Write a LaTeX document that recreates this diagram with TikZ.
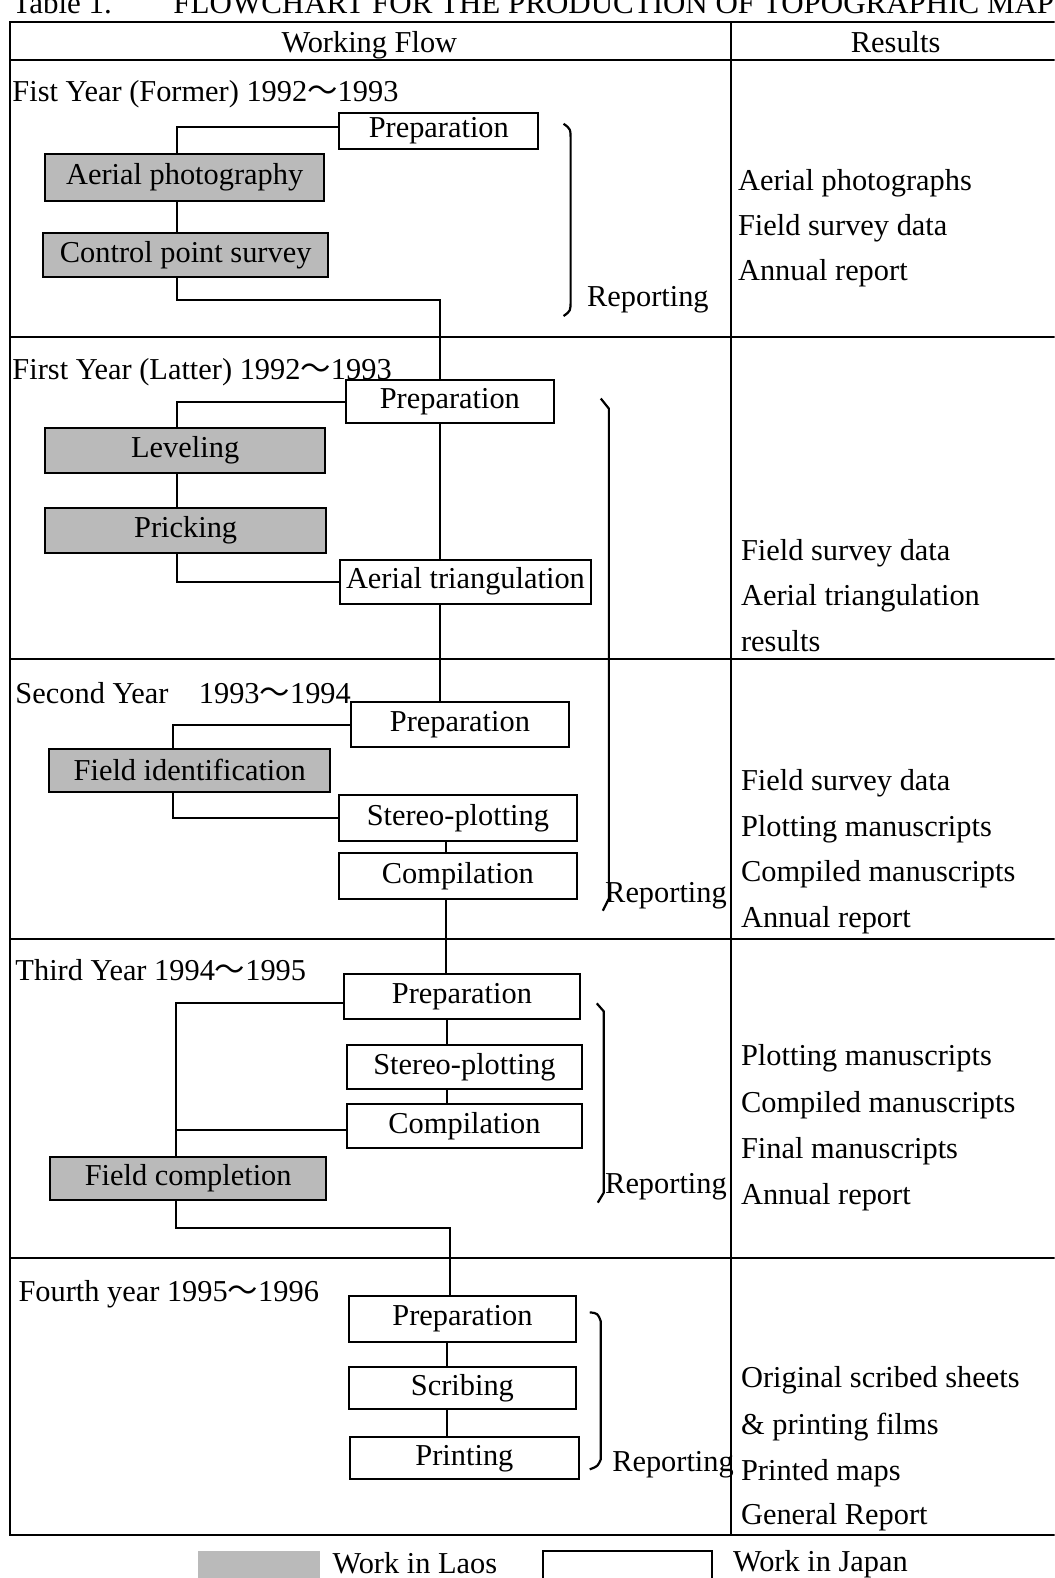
\documentclass[tikz,border=0pt]{standalone}
\usepackage{fontspec}
\setmainfont{Liberation Serif}
\newfontfamily\cjk{Noto Sans CJK JP}
\newlength\U
\setlength\U{0.5034pt}
\newcommand{\wave}{{\cjk ～}}
\begin{document}
\begin{tikzpicture}[x=0.5034pt,y=-0.5034pt,
  every node/.style={font=\fontsize{15.2}{18}\selectfont, inner sep=0pt},
  tline/.style={line width=1.1pt},
  conn/.style={line width=1pt},
  wbox/.style={draw, line width=1pt, fill=white, rectangle},
  gbox/.style={draw, line width=1pt, fill=black!27, rectangle},
  lbl/.style={anchor=base west},
  brk/.style={line width=1.1pt, line join=round}
]
\useasboundingbox (0,0) rectangle (1048,1568);
\clip (0,0) rectangle (1048,1568);
\fill[white] (0,0) rectangle (1048,1568);

% title (cut at top)
\node[lbl, font=\fontsize{15.5}{18}\selectfont] (title1) at (12,13) {Table 1.};
\node[lbl, font=\fontsize{15.5}{18}\selectfont] (title2) at (172,13) {FLOWCHART FOR THE PRODUCTION OF TOPOGRAPHIC MAPS};

% table frame
\draw[tline] (1048,22) -- (10,22) -- (10,1525) -- (1048,1525);
\draw[tline] (726,22) -- (726,1525);
\draw[tline] (10,60) -- (1048,60);
\draw[tline] (10,335) -- (1048,335);
\draw[tline] (10,655) -- (1048,655);
\draw[tline] (10,933) -- (1048,933);
\draw[tline] (10,1250) -- (1048,1250);

% headers
\node[anchor=base] (hwf) at (367,52) {Working Flow};
\node[anchor=base] (hres) at (890,52) {Results};

% section titles
\node[lbl] (y1) at (12,101) {Fist Year (Former) 1992\wave1993};
\node[lbl] (y2) at (12,377) {First Year (Latter) 1992\wave1993};
\node[lbl] (y3) at (15,699) {Second Year\hspace{1em}1993\wave1994};
\node[lbl] (y4) at (15,974) {Third Year 1994\wave1995};
\node[lbl] (y5) at (18,1293) {Fourth year 1995\wave1996};

% ---------- section 1
\node[wbox, minimum width=198\U, minimum height=36\U] (prep1) at (436,130) {Preparation};
\node[gbox, minimum width=277\U, minimum height=47\U] (aerial) at (183.5,176.5) {Aerial photography};
\node[gbox, minimum width=283\U, minimum height=43\U] (control) at (184.5,253.5) {Control point survey};

% ---------- section 2
\node[wbox, minimum width=206\U, minimum height=42\U] (prep2) at (447,399) {Preparation};
\node[gbox, minimum width=278\U, minimum height=45\U] (leveling) at (184,447.5) {Leveling};
\node[gbox, minimum width=279\U, minimum height=44\U] (pricking) at (184.5,527) {Pricking};
\node[wbox, minimum width=249\U, minimum height=44\U] (aerialtri) at (462.5,578) {Aerial triangulation};

% ---------- section 3
\node[wbox, minimum width=216\U, minimum height=44\U] (prep3) at (457,720) {Preparation};
\node[gbox, minimum width=279\U, minimum height=43\U] (fieldid) at (188.5,765.5) {Field identification};
\node[wbox, minimum width=236\U, minimum height=46\U] (stereo3) at (455,813) {Stereo-plotting};
\node[wbox, minimum width=236\U, minimum height=45\U] (comp3) at (455,870.5) {Compilation};

% ---------- section 4
\node[wbox, minimum width=234\U, minimum height=45\U] (prep4) at (459,990.5) {Preparation};
\node[wbox, minimum width=233\U, minimum height=44\U] (stereo4) at (461.5,1060) {Stereo-plotting};
\node[wbox, minimum width=233\U, minimum height=44\U] (comp4) at (461.5,1119) {Compilation};
\node[gbox, minimum width=274\U, minimum height=42\U] (fieldcomp) at (187,1171) {Field completion};

% ---------- section 5
\node[wbox, minimum width=225\U, minimum height=45\U] (prep5) at (459.5,1310.5) {Preparation};
\node[wbox, minimum width=225\U, minimum height=42\U] (scrib) at (459.5,1379) {Scribing};
\node[wbox, minimum width=227\U, minimum height=42\U] (print) at (461.5,1449) {Printing};

% ---------- connectors
\coordinate (sp1) at (176,0);
\coordinate (j1) at (437,298);
\coordinate (p1w) at ([yshift=4\U]prep1.west);
\draw[conn] (p1w) -| (sp1 |- aerial.north);
\draw[conn] (sp1 |- aerial.south) -- (sp1 |- control.north);
\draw[conn] (sp1 |- control.south) |- (j1) -- (j1 |- prep2.north);

\coordinate (sp2) at (176,0);
\coordinate (t2) at (437,0);
\draw[conn] (prep2.west) -| (sp2 |- leveling.north);
\draw[conn] (sp2 |- leveling.south) -- (sp2 |- pricking.north);
\draw[conn] (sp2 |- pricking.south) |- (aerialtri.west);
\draw[conn] (t2 |- prep2.south) -- (t2 |- aerialtri.north);
\draw[conn] (t2 |- aerialtri.south) -- (t2 |- prep3.north);

\coordinate (sp3) at (172,0);
\coordinate (t3) at (443,0);
\draw[conn] (prep3.west) -| (sp3 |- fieldid.north);
\draw[conn] (sp3 |- fieldid.south) |- (stereo3.west);
\draw[conn] (t3 |- stereo3.south) -- (t3 |- comp3.north);
\draw[conn] (t3 |- comp3.south) -- (t3 |- prep4.north);

\coordinate (sp4) at (175,0);
\coordinate (t4) at (444,0);
\coordinate (j4) at (447,1220);
\coordinate (p4w) at ([yshift=-6\U]prep4.west);
\coordinate (c4w) at ([yshift=-4\U]comp4.west);
\draw[conn] (p4w) -| (sp4 |- fieldcomp.north);
\draw[conn] (sp4 |- c4w) -- (c4w);
\draw[conn] (t4 |- prep4.south) -- (t4 |- stereo4.north);
\draw[conn] (t4 |- stereo4.south) -- (t4 |- comp4.north);
\draw[conn] (sp4 |- fieldcomp.south) |- (j4) -- (j4 |- prep5.north);

\coordinate (t5) at (444,0);
\draw[conn] (t5 |- prep5.south) -- (t5 |- scrib.north);
\draw[conn] (t5 |- scrib.south) -- (t5 |- print.north);

% ---------- brackets and Reporting
\draw[brk] (560,123) .. controls (567,128) .. (567,140) -- (567,298) .. controls (567,309) .. (560,314);
\node[lbl] (rep1) at (583,305) {Reporting};

\draw[brk] (597,396) -- (605,406) -- (605,893) -- (599,905);
\node[lbl] (rep3) at (601,897) {Reporting};

\draw[brk] (593,997) -- (600,1005) -- (600,1185) -- (594,1195);
\node[lbl] (rep4) at (601,1186) {Reporting};

\draw[brk] (586,1304) .. controls (594,1305) .. (597,1313) -- (597,1450) .. controls (594,1457) .. (586,1460);
\node[lbl] (rep5) at (608,1462) {Reporting};

% ---------- results
\node[lbl] (r11) at (733,189) {Aerial photographs};
\node[lbl] (r12) at (733,234) {Field survey data};
\node[lbl] (r13) at (733,279) {Annual report};

\node[lbl] (r21) at (736,557) {Field survey data};
\node[lbl] (r22) at (736,602) {Aerial triangulation};
\node[lbl] (r23) at (736,647) {results};

\node[lbl] (r31) at (736,785) {Field survey data};
\node[lbl] (r32) at (736,831) {Plotting manuscripts};
\node[lbl] (r33) at (736,876) {Compiled manuscripts};
\node[lbl] (r34) at (736,922) {Annual report};

\node[lbl] (r41) at (736,1059) {Plotting manuscripts};
\node[lbl] (r42) at (736,1105) {Compiled manuscripts};
\node[lbl] (r43) at (736,1151) {Final manuscripts};
\node[lbl] (r44) at (736,1197) {Annual report};

\node[lbl] (r51) at (736,1379) {Original scribed sheets};
\node[lbl] (r52) at (736,1425) {\& printing films};
\node[lbl] (r53) at (736,1471) {Printed maps};
\node[lbl] (r54) at (736,1515) {General Report};

% ---------- legend
\node[draw=none, fill=black!27, minimum width=121\U, minimum height=30\U] (lgray) at (257.5,1556) {};
\node[lbl] (llaos) at (330,1564) {Work in Laos};
\node[wbox, minimum width=167\U, minimum height=34\U] (lwhite) at (623.5,1558) {};
\node[lbl] (ljapan) at (728,1562) {Work in Japan};
\end{tikzpicture}
\end{document}
